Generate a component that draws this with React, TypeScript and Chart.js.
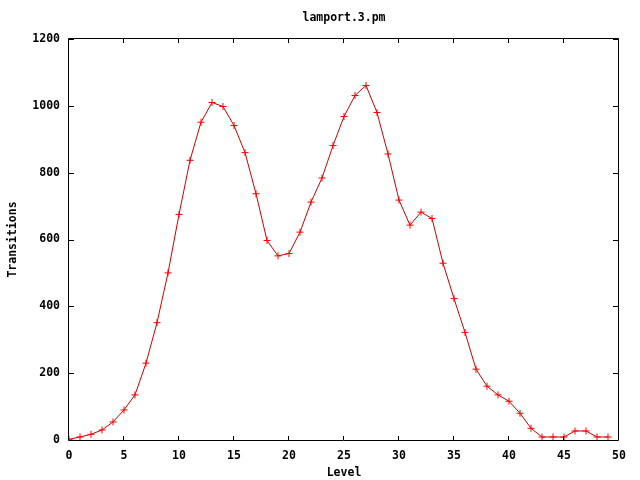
import React, { useEffect, useRef } from "react";
import { Chart, registerables } from "chart.js";

Chart.register(...registerables);

const TITLE = "lamport.3.pm";
const X_LABEL = "Level";
const Y_LABEL = "Transitions";

const levels: number[] = [
  0, 1, 2, 3, 4, 5, 6, 7, 8, 9, 10, 11, 12, 13, 14, 15, 16, 17, 18, 19, 20, 21,
  22, 23, 24, 25, 26, 27, 28, 29, 30, 31, 32, 33, 34, 35, 36, 37, 38, 39, 40, 41,
  42, 43, 44, 45, 46, 47, 48, 49,
];
const transitions: number[] = [
  2, 9, 17, 30, 54, 90, 135, 230, 351, 500, 675, 837, 951, 1010, 998, 941, 860,
  737, 597, 551, 558, 622, 712, 784, 881, 968, 1031, 1061, 980, 856, 718, 643,
  682, 663, 529, 423, 322, 212, 161, 135, 116, 80, 35, 9, 9, 9, 27, 27, 9, 9,
];

const X_MIN = 0;
const X_MAX = 50;
const X_STEP = 5;
const Y_MIN = 0;
const Y_MAX = 1200;
const Y_STEP = 200;

const FONT_FAMILY = "'DejaVu Sans Mono', 'Liberation Mono', monospace";
const FONT = { family: FONT_FAMILY, size: 11.5, weight: "bold" as const, lineHeight: 1.2 };

const framePlugin = {
  id: "gnuFrame",
  afterDraw(chart: any) {
    const { ctx, chartArea } = chart;
    const { left, right, top, bottom } = chartArea;
    const xs = chart.scales.x;
    const ys = chart.scales.y;
    ctx.save();
    ctx.strokeStyle = "#000000";
    ctx.lineWidth = 1;
    ctx.beginPath();
    ctx.rect(left - 0.5, top - 0.5, right - left, bottom - top + 1);
    ctx.stroke();
    ctx.beginPath();
    for (let v = X_MIN; v <= X_MAX; v += X_STEP) {
      const px = Math.round(xs.getPixelForValue(v)) - 0.5;
      ctx.moveTo(px, bottom);
      ctx.lineTo(px, bottom - 4);
      ctx.moveTo(px, top);
      ctx.lineTo(px, top + 4);
    }
    for (let v = Y_MIN; v <= Y_MAX; v += Y_STEP) {
      const py = Math.round(ys.getPixelForValue(v)) + 0.5;
      ctx.moveTo(left, py);
      ctx.lineTo(left + 5, py);
      ctx.moveTo(right - 1, py);
      ctx.lineTo(right - 6, py);
    }
    ctx.stroke();
    // title
    ctx.fillStyle = "#000000";
    ctx.font = `bold ${FONT.size}px ${FONT_FAMILY}`;
    ctx.textAlign = "center";
    ctx.textBaseline = "middle";
    ctx.fillText(TITLE, (left + right) / 2, 18);
    ctx.restore();
  },
};

export default function App() {
  const canvasRef = useRef<HTMLCanvasElement | null>(null);

  useEffect(() => {
    if (!canvasRef.current) return;
    const chart = new Chart(canvasRef.current, {
      type: "line",
      data: {
        datasets: [
          {
            label: TITLE,
            data: levels.map((x, i) => ({ x, y: transitions[i] })),
            borderColor: "#c80000",
            borderWidth: 1,
            pointStyle: "cross",
            pointRadius: 3.5,
            pointBorderColor: "#ff0000",
            pointBorderWidth: 1,
            pointBackgroundColor: "#ff0000",
            tension: 0,
            fill: false,
          },
        ],
      },
      options: {
        responsive: false,
        animation: false,
        layout: { padding: { top: 39, right: 21, left: 0, bottom: 0 } },
        plugins: {
          legend: { display: false },
          title: { display: false },
          tooltip: { enabled: false },
        },
        scales: {
          x: {
            type: "linear",
            min: X_MIN,
            max: X_MAX,
            grid: { display: false, drawTicks: false },
            border: { display: false },
            ticks: {
              stepSize: X_STEP,
              padding: 9,
              color: "#000000",
              font: FONT,
              maxRotation: 0,
              autoSkip: false,
              callback: (v: any) => String(v),
            },
            title: {
              display: true,
              text: X_LABEL,
              color: "#000000",
              font: FONT,
              padding: { top: 0, bottom: 0.5 },
            },
            afterFit(scale: any) {
              scale.height = 40;
            },
          },
          y: {
            type: "linear",
            min: Y_MIN,
            max: Y_MAX,
            grid: { display: false, drawTicks: false },
            border: { display: false },
            ticks: {
              stepSize: Y_STEP,
              padding: 9,
              color: "#000000",
              font: FONT,
              autoSkip: false,
              callback: (v: any) => String(v),
            },
            title: {
              display: true,
              text: Y_LABEL,
              color: "#000000",
              font: FONT,
              padding: { top: 6.6, bottom: 0 },
            },
            afterFit(scale: any) {
              scale.width = 69;
            },
          },
        },
      },
      plugins: [framePlugin],
    });
    return () => chart.destroy();
  }, []);

  return (
    <div style={{ position: "fixed", left: 0, top: 0, width: 640, height: 480, background: "#ffffff" }}>
      <canvas ref={canvasRef} width={640} height={480} style={{ display: "block" }} />
    </div>
  );
}
